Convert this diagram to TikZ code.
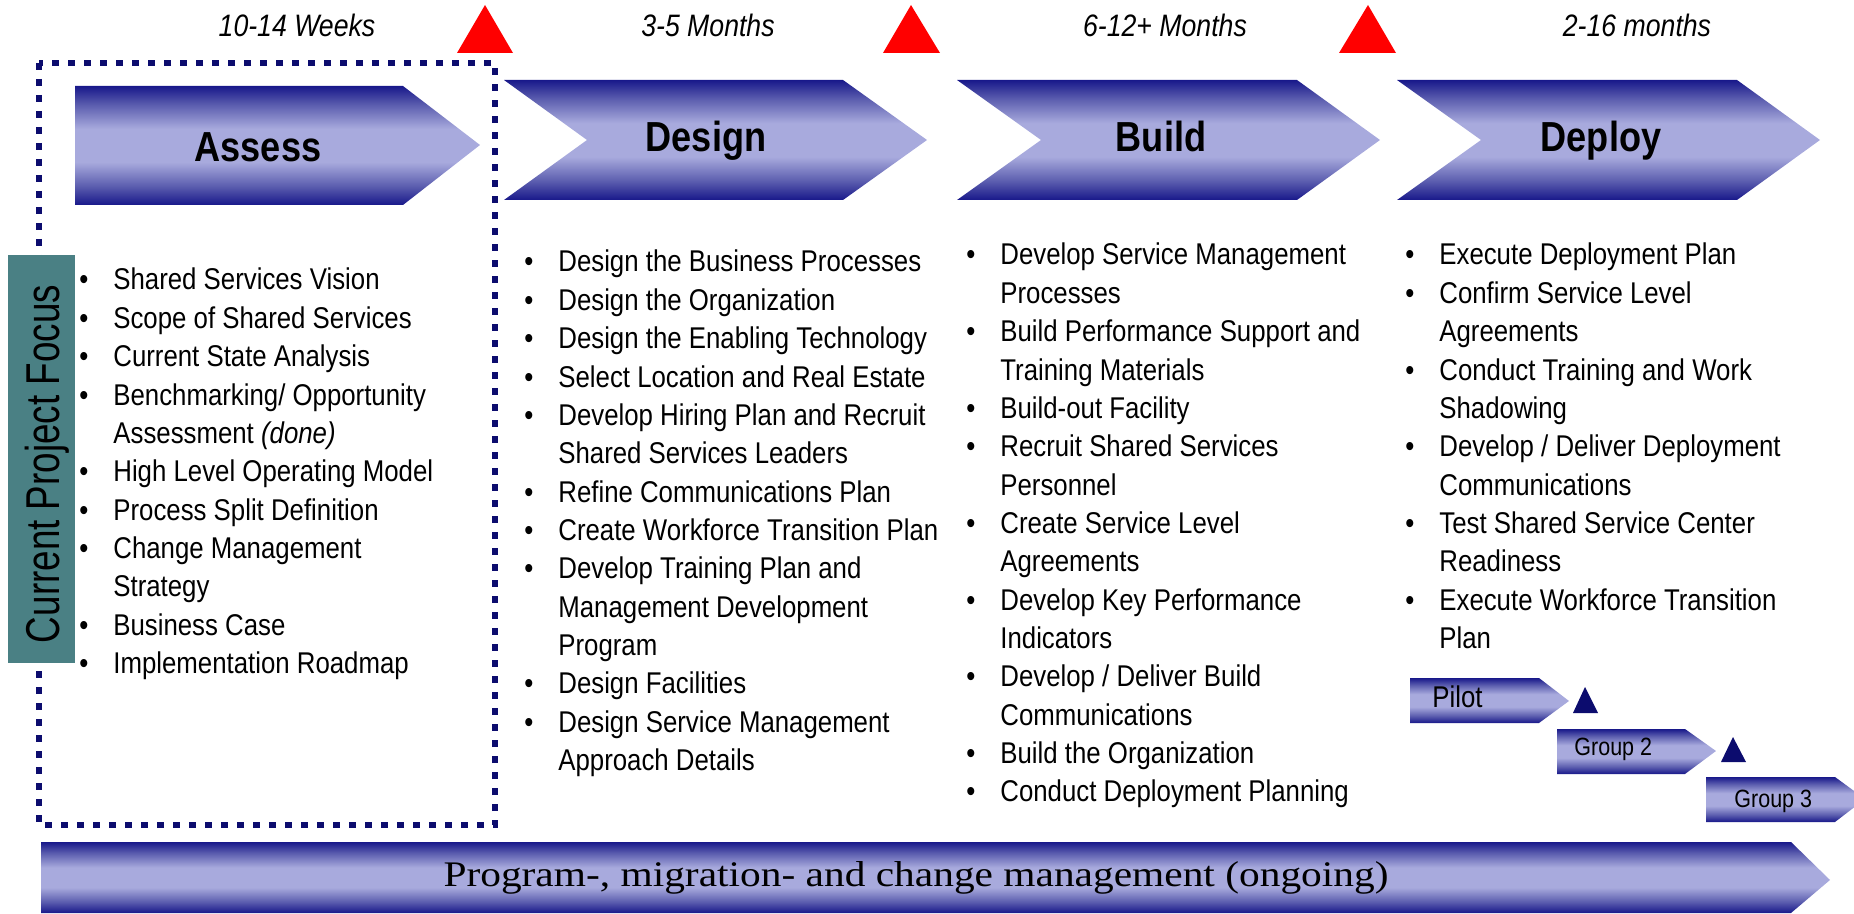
\documentclass[tikz,border=0pt]{standalone}
\usepackage{fontspec}
\setmainfont{Liberation Sans}[FakeStretch=0.86]
\newfontfamily\focusfont{Liberation Sans}[FakeStretch=0.775]
\newfontfamily\bannerfont{Liberation Serif}[FakeStretch=1.15]

\definecolor{phasedark}{RGB}{24,24,138}
\definecolor{phasemid}{RGB}{92,94,175}
\definecolor{phaselight}{RGB}{168,170,221}
\definecolor{focusnavy}{RGB}{12,12,110}
\definecolor{focusteal}{RGB}{74,128,132}

% dark edges, light band in the middle
\pgfdeclareverticalshading{phaseshade}{100bp}{color(0bp)=(phasedark); color(25bp)=(phasedark); color(33bp)=(phasemid); color(43bp)=(phaselight); color(57bp)=(phaselight); color(67bp)=(phasemid); color(75bp)=(phasedark); color(100bp)=(phasedark)}

\newcommand{\itembul}{\makebox[17pt][l]{\textbullet}}
\newcommand{\itemcont}{\hspace*{17pt}}

\begin{document}
\begin{tikzpicture}[
x=0.5pt,
y=-0.5pt,
every node/.style={inner sep=0pt},
phase/.style={shading=phaseshade, draw=none},
milestone/.style={fill=red, draw=none},
wavemark/.style={fill=focusnavy, draw=none},
phasename/.style={anchor=base, font=\bfseries\fontsize{21}{24}\selectfont},
duration/.style={anchor=base, font=\itshape\fontsize{15.5}{18}\selectfont},
listline/.style={anchor=base west, font=\fontsize{15}{18}\selectfont}
]

\useasboundingbox (0,0) rectangle (1854,914);

% focus frame round the first phase
\draw[focusnavy, line width=3.25pt, dash pattern=on 3.5pt off 4.5pt] (39,63) rectangle (495,825);

% milestones
\fill[milestone] (457,53) -- (485,5) -- (513,53) -- cycle;
\fill[milestone] (883,53) -- (911,5) -- (940,53) -- cycle;
\fill[milestone] (1339,53) -- (1368,5) -- (1396,53) -- cycle;

% durations
\node[duration] (dur-assess) at (297,37) {10-14 Weeks};
\node[duration] (dur-design) at (708,37) {3-5 Months};
\node[duration] (dur-build) at (1165,37) {6-12+ Months};
\node[duration] (dur-deploy) at (1637,37) {2-16 months};

% phase chevrons
\shade[phase] (75,86) -- (403,86) -- (480,145) -- (403,205) -- (75,205) -- cycle;
\shade[phase] (504,80) -- (843,80) -- (927,140) -- (843,200) -- (504,200) -- (587,140) -- cycle;
\shade[phase] (957,80) -- (1297,80) -- (1380,140) -- (1297,200) -- (957,200) -- (1041,140) -- cycle;
\shade[phase] (1397,80) -- (1737,80) -- (1820,140) -- (1737,200) -- (1397,200) -- (1481,140) -- cycle;

\node[phasename] (assess) at (258,162) {Assess};
\node[phasename] (design) at (706,152) {Design};
\node[phasename] (build) at (1161,152) {Build};
\node[phasename] (deploy) at (1601,152) {Deploy};

% side label
\fill[focusteal] (8,255) rectangle (75,663);
\node[rotate=90, anchor=base, font=\focusfont\fontsize{23.75}{26}\selectfont] (focus) at (59,464) {Current Project Focus};

% activity lists
\foreach \txt [count=\i from 0] in {
  {\itembul Shared Services Vision},
  {\itembul Scope of Shared Services},
  {\itembul Current State Analysis},
  {\itembul Benchmarking/ Opportunity},
  {\itemcont Assessment \textit{(done)}},
  {\itembul High Level Operating Model},
  {\itembul Process Split Definition},
  {\itembul Change Management},
  {\itemcont Strategy},
  {\itembul Business Case},
  {\itembul Implementation Roadmap}}
  \node[listline] (assess-\i) at (79,{290+38.35*\i}) {\txt};

\foreach \txt [count=\i from 0] in {
  {\itembul Design the Business Processes},
  {\itembul Design the Organization},
  {\itembul Design the Enabling Technology},
  {\itembul Select Location and Real Estate},
  {\itembul Develop Hiring Plan and Recruit},
  {\itemcont Shared Services Leaders},
  {\itembul Refine Communications Plan},
  {\itembul Create Workforce Transition Plan},
  {\itembul Develop Training Plan and},
  {\itemcont Management Development},
  {\itemcont Program},
  {\itembul Design Facilities},
  {\itembul Design Service Management},
  {\itemcont Approach Details}}
  \node[listline] (design-\i) at (524,{272+38.35*\i}) {\txt};

\foreach \txt [count=\i from 0] in {
  {\itembul Develop Service Management},
  {\itemcont Processes},
  {\itembul Build Performance Support and},
  {\itemcont Training Materials},
  {\itembul Build-out Facility},
  {\itembul Recruit Shared Services},
  {\itemcont Personnel},
  {\itembul Create Service Level},
  {\itemcont Agreements},
  {\itembul Develop Key Performance},
  {\itemcont Indicators},
  {\itembul Develop / Deliver Build},
  {\itemcont Communications},
  {\itembul Build the Organization},
  {\itembul Conduct Deployment Planning}}
  \node[listline] (build-\i) at (966,{265+38.35*\i}) {\txt};

\foreach \txt [count=\i from 0] in {
  {\itembul Execute Deployment Plan},
  {\itembul Confirm Service Level},
  {\itemcont Agreements},
  {\itembul Conduct Training and Work},
  {\itemcont Shadowing},
  {\itembul Develop / Deliver Deployment},
  {\itemcont Communications},
  {\itembul Test Shared Service Center},
  {\itemcont Readiness},
  {\itembul Execute Workforce Transition},
  {\itemcont Plan}}
  \node[listline] (deploy-\i) at (1405,{265+38.35*\i}) {\txt};

% rollout waves
\shade[phase] (1410,678) -- (1539,678) -- (1569,701) -- (1539,723) -- (1410,723) -- cycle;
\shade[phase] (1557,729) -- (1685,729) -- (1716,751) -- (1685,774) -- (1557,774) -- cycle;
\shade[phase] (1706,777) -- (1835,777) -- (1865,799) -- (1835,822) -- (1706,822) -- cycle;
\fill[wavemark] (1573,713) -- (1585,687) -- (1598,713) -- cycle;
\fill[wavemark] (1721,762) -- (1733,737) -- (1746,762) -- cycle;

\node[anchor=base west, font=\fontsize{15}{18}\selectfont] (pilot) at (1432,707) {Pilot};
\node[anchor=base west, font=\fontsize{12.5}{15}\selectfont] (group2) at (1574,755) {Group 2};
\node[anchor=base west, font=\fontsize{12.5}{15}\selectfont] (group3) at (1734,807) {Group 3};

% ongoing management banner
\shade[phase] (41,842) -- (1791,842) -- (1830,880) -- (1791,913) -- (41,913) -- cycle;
\node[anchor=base, font=\bannerfont\fontsize{18}{20}\selectfont] (mgmt) at (916,886) {Program-, migration- and change management (ongoing)};

\end{tikzpicture}
\end{document}
